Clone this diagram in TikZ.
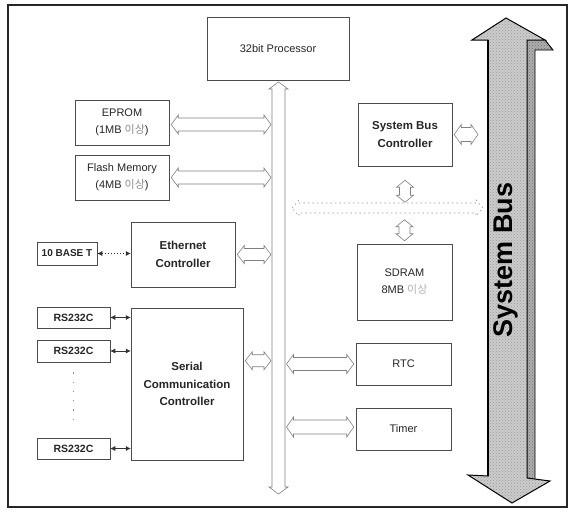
\documentclass[tikz,border=0pt]{standalone}
\usepackage{fontspec}
\setmainfont{Liberation Sans}
\newfontfamily\krfont{Noto Sans CJK KR}
\usetikzlibrary{calc,arrows.meta,patterns}

% Hollow double-headed bus arrows: [style]{end A}{end B}{half width}
\newcommand\fatH[4][busline]{%
  \draw[#1] (#2) -- ($(#2)+(7,{-#4-3})$) -- ($(#2)+(7,-#4)$) -- ($(#3)+(-7,-#4)$)
    -- ($(#3)+(-7,{-#4-3})$) -- (#3) -- ($(#3)+(-7,{#4+3})$) -- ($(#3)+(-7,#4)$)
    -- ($(#2)+(7,#4)$) -- ($(#2)+(7,{#4+3})$) -- cycle;}
\newcommand\fatV[4][busline]{%
  \draw[#1] (#2) -- ($(#2)+({#4+3},7)$) -- ($(#2)+(#4,7)$) -- ($(#3)+(#4,-7)$)
    -- ($(#3)+({#4+3},-7)$) -- (#3) -- ($(#3)+({-#4-3},-7)$) -- ($(#3)+(-#4,-7)$)
    -- ($(#2)+(-#4,7)$) -- ($(#2)+({-#4-3},7)$) -- cycle;}

\begin{document}
\begin{tikzpicture}[x=1pt,y=-1pt,
  box/.style={draw=black!70,line width=0.5pt,fill=white,inner sep=0pt,
    align=center,text=black!85,font=\fontsize{11}{17}\selectfont},
  boldbox/.style={box,font=\bfseries\fontsize{11.5}{17.5}\selectfont},
  portbox/.style={box,minimum width=73pt,minimum height=21pt,
    font=\bfseries\fontsize{10.5}{12}\selectfont},
  busline/.style={draw=black!50,line width=0.6pt,line join=miter},
  faintbus/.style={draw=black!40,line width=0.6pt,dash pattern=on 1.5pt off 3pt},
  link/.style={draw=black!80,line width=0.6pt,
    {Latex[length=5pt,width=5pt]}-{Latex[length=5pt,width=5pt]}}]

\useasboundingbox (0,0) rectangle (573,512);
\draw[line width=1.2pt,black!85] (8,5) rectangle (567,507);

% --- processor and internal bus ---
\node[box,minimum width=142pt,minimum height=63pt] (proc) at (278,48.5) {32bit Processor};
\coordinate (ibusT) at (278.5,82);
\coordinate (ibusB) at (278.5,494);
\fatV{ibusT}{ibusB}{6.5}

% --- left column ---
\node[box,minimum width=94pt,minimum height=45pt] (eprom) at (122,122.5)
  {EPROM\\(1MB {\krfont\color{black!45}이상})};
\node[box,minimum width=94pt,minimum height=45pt] (flash) at (122,177.5)
  {Flash Memory\\(4MB {\krfont\color{black!45}이상})};
\node[boldbox,minimum width=104pt,minimum height=65pt] (eth) at (183,254.5)
  {Ethernet\\Controller};
\node[portbox,minimum width=60pt,minimum height=23pt,
  font=\bfseries\fontsize{10}{12}\selectfont] (base) at (67,253.5) {10 BASE T};
\node[boldbox,minimum width=112pt,minimum height=152pt] (serial) at (187,384)
  {Serial\\Communication\\Controller};
\node[portbox] (rs1) at (73.5,317.5) {RS232C};
\node[portbox,minimum height=22pt] (rs2) at (73.5,351) {RS232C};
\node[portbox] (rs3) at (73.5,448.5) {RS232C};

\draw[link,dash pattern=on 1.5pt off 1.5pt] (base.east) -- (eth.west |- base.east);
\foreach \p in {rs1,rs2,rs3}
  \draw[link] (\p.east) -- (serial.west |- \p.east);
\draw[black!45,line width=1.3pt,dash pattern=on 1.3pt off 8pt]
  ($(rs2.south)+(0,10)$) -- ($(rs3.north)+(0,-12)$);

% connectors of the left column to the internal bus
\coordinate (e1) at ($(eprom.east)+(2,2)$);
\coordinate (e2) at ($(e1 -| ibusT)+(-7.5,0)$);
\fatH{e1}{e2}{6.5}
\coordinate (f1) at ($(flash.east)+(2,0)$);
\coordinate (f2) at ($(f1 -| ibusT)+(-7.5,0)$);
\fatH{f1}{f2}{6.5}
\coordinate (t1) at ($(eth.east)+(2,0)$);
\coordinate (t2) at ($(t1 -| ibusT)+(-7.5,0)$);
\fatH{t1}{t2}{6}
\coordinate (s1) at ($(serial.north east)+(2,53)$);
\coordinate (s2) at ($(s1 -| ibusT)+(-7.5,0)$);
\fatH{s1}{s2}{6}

% --- right column ---
\node[boldbox,minimum width=94pt,minimum height=63pt] (sbc) at (405,134.5)
  {System Bus\\Controller};
\node[box,minimum width=95pt,minimum height=76pt] (sdram) at (404.5,282)
  {SDRAM\\8MB {\krfont\color{black!30}이상}};
\node[box,minimum width=95pt,minimum height=42pt] (rtc) at (403.5,364) {RTC};
\node[box,minimum width=95pt,minimum height=42pt] (timer) at (403.5,429) {Timer};

\coordinate (r2) at ($(rtc.west)+(-2,0)$);
\coordinate (r1) at ($(r2 -| ibusT)+(8,0)$);
\fatH{r1}{r2}{6.5}
\coordinate (m2) at ($(timer.west)+(-2,-2)$);
\coordinate (m1) at ($(m2 -| ibusT)+(8,0)$);
\fatH{m1}{m2}{7}

% local bus between controller and memory
\coordinate (hL) at (292,208);
\coordinate (hR) at (483,208);
\fatH[faintbus]{hL}{hR}{5}
\coordinate (v1) at ($(sbc.south)+(0,14)$);
\coordinate (v2) at ($(sbc.south)+(0,36)$);
\fatV{v1}{v2}{5.5}
\coordinate (v3) at ($(sdram.north)+(0,-24)$);
\coordinate (v4) at ($(sdram.north)+(0,-3)$);
\fatV{v3}{v4}{5.5}

% --- system bus (3-D arrow) ---
\coordinate (sysL) at (488,0);
\coordinate (b1) at ($(sbc.east)+(2,0)$);
\coordinate (b2) at ($(b1 -| sysL)+(-10,0)$);
\fatH{b1}{b2}{7}

\path[fill=black!32] (545,40) -- (553,50) -- (535,50) -- (535,480) -- (527,480) -- (527,40) -- cycle;
\path[pattern=crosshatch dots,pattern color=black!55] (545,40) -- (553,50) -- (535,50) -- (535,480) -- (527,480) -- (527,40) -- cycle;
\draw[black,line width=0.9pt,line join=miter] (545,40) -- (553,50) -- (535,50) -- (535,480);
\path[fill=black!20] (506,18) -- (545,40) -- (527,40) -- (527,478) -- (550,481)
  -- (512,503) -- (468,475) -- (488,476) -- (488,40) -- (472,40) -- cycle;
\path[pattern=crosshatch dots,pattern color=black!40] (506,18) -- (545,40) -- (527,40) -- (527,478) -- (550,481)
  -- (512,503) -- (468,475) -- (488,476) -- (488,40) -- (472,40) -- cycle;
\draw[black,line width=1pt,line join=miter] (506,18) -- (545,40) -- (527,40) -- (527,478) -- (550,481)
  -- (512,503) -- (468,475) -- (488,476) -- (488,40) -- (472,40) -- cycle;
\draw[black,line width=1.8pt] (488,40) -- (488,476);
\node[rotate=90,font=\bfseries\fontsize{27}{27}\selectfont,text=black] (sysbus) at (506,260) {System Bus};
\end{tikzpicture}
\end{document}
